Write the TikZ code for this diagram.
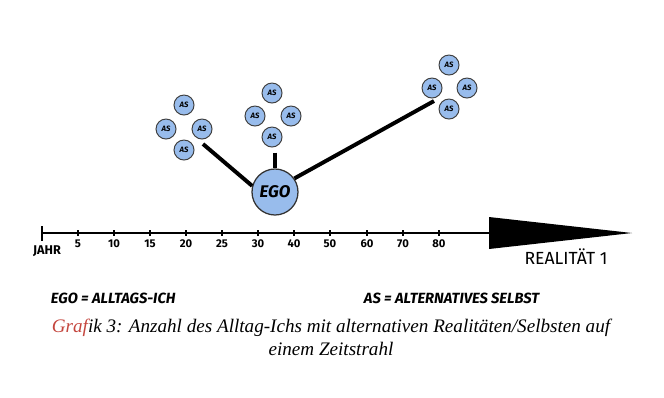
\documentclass[tikz,border=0pt]{standalone}
\usepackage{fontspec}
\setmainfont{Liberation Serif}
\newfontfamily\handfont{Fira Sans}
\usepackage{xcolor}
\definecolor{asblue}{RGB}{152,188,236}
\definecolor{grafred}{RGB}{196,70,62}
\usetikzlibrary{positioning}

\begin{document}
\begin{tikzpicture}[x=0.025cm, y=-0.025cm,
    asnode/.style={circle, draw=black!75, line width=0.7pt, fill=asblue, minimum size=0.5cm, inner sep=0pt, font=\handfont\bfseries\itshape\fontsize{5.5}{6}\selectfont},
    egonode/.style={circle, draw=black!80, line width=0.9pt, fill=asblue, minimum size=1.15cm, inner sep=0pt, font=\handfont\bfseries\itshape\fontsize{12}{14}\selectfont},
    link/.style={line width=2.8pt},
    yearlabel/.style={font=\handfont\bfseries\fontsize{8}{9}\selectfont},
    legend/.style={font=\handfont\bfseries\itshape\fontsize{10.5}{12}\selectfont, anchor=west}]
    \useasboundingbox (0,0) rectangle (664,397);

    % Zeitstrahl
    \coordinate (start) at (42,233);
    \coordinate (arrowbase) at (489,233);
    \draw[line width=1.5pt] (start) -- (arrowbase);
    \draw[line width=1.5pt] (42,226) -- (42,241);
    \fill (489,217) -- (632,233) -- (489,249) -- cycle;
    \foreach \x/\yr in {78/5, 114/10, 150/15, 186/20, 222/25, 258/30, 294/40, 330/50, 367/60, 403/70, 439/80} {
        \draw[line width=1pt] (\x,230) -- (\x,236);
        \node[yearlabel] (yr\yr) at (\x,244) {\yr};
    }
    \node[yearlabel, font=\handfont\bfseries\fontsize{9}{10}\selectfont] (jahr) at (47,251) {JAHR};
    \node[font=\handfont\fontsize{12.5}{14}\selectfont] (realitaet) at (566,257) {REALITÄT 1};

    % EGO
    \node[egonode] (ego) at (275,192) {EGO};

    % AS Gruppe 1
    \node[asnode] (as11) at (184,105) {AS};
    \node[asnode] (as12) at (166,129) {AS};
    \node[asnode] (as13) at (202,129) {AS};
    \node[asnode] (as14) at (184,150) {AS};
    % AS Gruppe 2
    \node[asnode] (as21) at (272,93) {AS};
    \node[asnode] (as22) at (255,116) {AS};
    \node[asnode] (as23) at (291,116) {AS};
    \node[asnode] (as24) at (272,137) {AS};
    % AS Gruppe 3
    \node[asnode] (as31) at (449,65) {AS};
    \node[asnode] (as32) at (432,88) {AS};
    \node[asnode] (as33) at (467,88) {AS};
    \node[asnode] (as34) at (449,109) {AS};

    % Verbindungen
    \coordinate (c1) at (203,144);
    \coordinate (c3) at (434,101);
    \draw[link] (c1) -- (ego.165);
    \draw[link] (as24.south -| ego.north) ++(0,5) coordinate (c2) -- (ego.north);
    \draw[link] (ego.35) -- (c3);

    % Legende
    \node[legend] (legego) at (46,298) {EGO = ALLTAGS-ICH};
    \node[legend] (legas) at (359,298) {AS = ALTERNATIVES SELBST};

    % Bildunterschrift
    \node[font=\itshape\fontsize{13.6}{16.5}\selectfont, align=center] (caption) at (331,337)
        {\textcolor{grafred}{Graf}ik 3: Anzahl des Alltag-Ichs mit alternativen Realitäten/Selbsten auf\\einem Zeitstrahl};
\end{tikzpicture}
\end{document}
